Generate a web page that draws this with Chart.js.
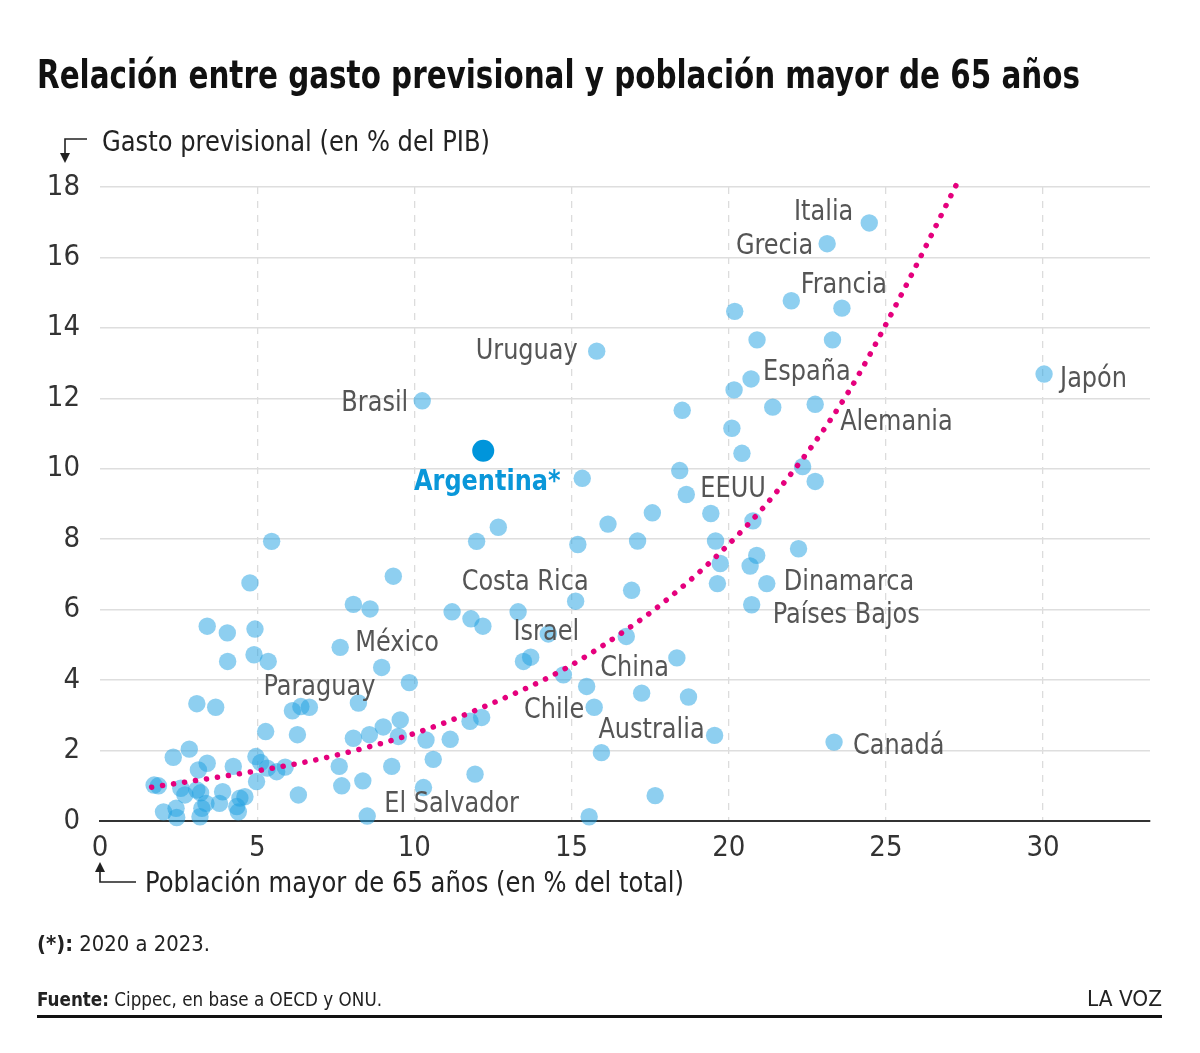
<!DOCTYPE html>
<html lang="es">
<head>
<meta charset="utf-8">
<script src="https://cdn.jsdelivr.net/npm/chart.js@4.4.1/dist/chart.umd.min.js"></script>
<style>
  html, body { margin: 0; padding: 0; background: #fff; }
  body { width: 1200px; height: 1053px; position: relative; overflow: hidden;
         font-family: "Liberation Sans Narrow", "DejaVu Sans Condensed", "Roboto", sans-serif; color: #222; }
  #c { position: absolute; left: 0; top: 0; }
  .t { position: absolute; white-space: nowrap; transform-origin: 0 0; }
  #title { left: 37px; top: 52px; font-size: 39px; font-weight: bold; color: #111; }
  #ytitle { left: 102px; top: 124px; font-size: 29px; color: #222; }
  #xtitle { left: 145px; top: 865px; font-size: 29px; color: #222; }
  #note { left: 37px; top: 931px; font-size: 22px; color: #222; }
  #src { left: 37px; top: 987px; font-size: 20px; color: #222; }
  #brand { left: 1087px; top: 986px; font-size: 22px; color: #222; }
  #rule { position: absolute; left: 37px; top: 1015px; width: 1125px; height: 3px; background: #111; }
  svg.arrow { position: absolute; overflow: visible; }
</style>
</head>
<body>
<canvas id="c" width="1200" height="1053"></canvas>
<div class="t" id="title" data-w="1043">Relación entre gasto previsional y población mayor de 65 años</div>
<div class="t" id="ytitle" data-w="388">Gasto previsional (en % del PIB)</div>
<div class="t" id="xtitle" data-w="539">Población mayor de 65 años (en % del total)</div>
<div class="t" id="note" data-w="173"><b>(*):</b> 2020 a 2023.</div>
<div class="t" id="src" data-w="345"><b>Fuente:</b> Cippec, en base a OECD y ONU.</div>
<div class="t" id="brand" data-w="75">LA VOZ</div>
<div id="rule"></div>
<svg class="arrow" style="left:0;top:0" width="1200" height="1053">
  <polyline points="87,139 65,139 65,155" fill="none" stroke="#222" stroke-width="1.6"/>
  <polygon points="60,153 70,153 65,163" fill="#222"/>
  <polyline points="136,882 100,882 100,870" fill="none" stroke="#222" stroke-width="1.6"/>
  <polygon points="95,872 105,872 100,862" fill="#222"/>
</svg>
<script>
// ---- Data ----
const popX = [24.47,23.13,23.6,21.99,20.19,20.9,23.3,15.8,20.71,20.17,21.4,22.75,18.52,20.1,20.42,22.35,22.75,18.44,18.65,15.34,30.03,10.25,
  19.43,17.57,16.16,15.2,17.1,19.58,20.77,22.22,20.89,19.73,20.68,21.21,19.64,16.91,20.73,15.13,16.74,18.35,15.48,17.23,18.72,15.72,19.55,23.35,15.95,17.66,15.56,
  12.67,11.98,9.33,8.06,8.59,11.2,13.3,11.8,12.18,14.26,7.64,13.47,13.7,8.96,14.74,9.84,8.22,9.55,9.01,11.77,12.14,8.06,8.57,9.49,10.37,11.14,7.61,9.28,10.6,11.93,7.69,8.36,10.29,8.5,
  5.46,4.77,3.41,4.05,4.93,4.06,4.9,5.35,3.08,3.68,6.12,6.39,6.66,5.27,6.28,2.33,2.84,3.41,3.13,4.24,4.96,5.11,5.32,5.62,5.89,4.98,1.72,1.86,2.57,2.7,3.08,3.2,3.9,4.45,4.61,6.31,3.37,3.24,3.8,4.35,2.02,2.42,2.44,3.18,4.4];
const gastoY = [16.98,16.39,14.56,14.77,14.47,13.66,13.66,13.34,12.55,12.24,11.75,11.83,11.66,11.15,10.44,10.06,9.64,9.95,9.27,9.73,12.69,11.93,
  8.73,8.75,8.43,7.85,7.95,7.95,8.52,7.73,7.54,7.31,7.24,6.74,6.74,6.55,6.14,6.24,5.24,4.63,3.82,3.63,3.52,3.23,2.43,2.24,1.94,0.72,0.12,
  8.34,7.94,6.95,6.15,6.02,5.94,5.94,5.74,5.53,5.31,4.93,4.53,4.65,4.36,4.15,3.93,3.35,2.87,2.67,2.83,2.94,2.35,2.45,2.4,2.3,2.32,1.55,1.55,1.75,1.33,1.0,1.14,0.95,0.14,
  7.94,6.76,5.53,5.34,5.45,4.53,4.72,4.53,3.33,3.23,3.13,3.25,3.23,2.54,2.45,1.81,2.04,1.64,1.45,1.55,1.83,1.66,1.5,1.4,1.53,1.12,1.02,1.0,0.93,0.74,0.88,0.8,0.83,0.65,0.69,0.74,0.5,0.36,0.5,0.41,0.26,0.36,0.1,0.12,0.26];
const countryNames = ["Italia","Grecia","Francia","","","","","Uruguay","España","","","Alemania","","","","","","","EEUU","","Japón","Brasil",
  "","","","","","","","","","","","Dinamarca","","","Países Bajos","","","China","","","","Chile","Australia","Canadá","","","",
  "","","","","","","Costa Rica","","","Israel","México","","","","","","","","","","","","","","","","","","","","","","","El Salvador",
  "","","","","","","","","","","","","Paraguay"];
const argentinaX = [12.19];
const argentinaY = [10.51];
const argentinaName = ["Argentina*"];
// dotted curve
const trendX = [1.64,5.04,7.24,10.18,11.94,14.74,17.02,17.93,19.67,21.52,23.78,25.43,27.36];
const trendY = [0.96,1.43,1.81,2.54,3.14,4.30,5.60,6.21,7.57,9.34,12.14,14.84,18.28];
const yTicks = [0,2,4,6,8,10,12,14,16,18];
const xTicks = [0,5,10,15,20,25,30];

// ---- label placement (style, kept apart from data) ----
const place = {
  "Italia":["left",-16,-13], "Grecia":["left",-14,0], "Francia":["above",2,-26],
  "Uruguay":["left",-19,-3], "España":["right",12,-9], "Alemania":["right",25,15],
  "EEUU":["right",14,-8], "Japón":["right",16,2], "Brasil":["left",-14,0],
  "Dinamarca":["right",17,-4], "Países Bajos":["right",21,8], "China":["left",-8,8],
  "Chile":["left",-10,0], "Australia":["left",-10,-8], "Canadá":["right",19,1],
  "Costa Rica":["above",7,-32], "Israel":["center",-2,-5], "México":["right",15,-7],
  "Paraguay":["above",10,-23], "El Salvador":["right",17,-15], "Argentina*":["below",4,29]
};

const FONT = '"Liberation Sans Narrow", "DejaVu Sans Condensed", "Roboto", sans-serif';
const SQUEEZE = 0.92;
const LABEL_DY = 3;

const pts = popX.map((x,i)=>({x, y: gastoY[i]}));
const argPts = argentinaX.map((x,i)=>({x, y: argentinaY[i]}));
const trendPts = trendX.map((x,i)=>({x, y: trendY[i]}));

const labelPlugin = {
  id: 'labels',
  afterDatasetsDraw(chart) {
    const ctx = chart.ctx;
    const drawSet = (dsIndex, names, bold, color) => {
      const meta = chart.getDatasetMeta(dsIndex);
      names.forEach((n, i) => {
        if (!n) return;
        const el = meta.data[i];
        const p = place[n] || ["right", 12, 0];
        ctx.save();
        ctx.textBaseline = 'middle';
        ctx.font = (bold ? 'bold ' : '') + '29px ' + FONT;
        ctx.fillStyle = color;
        let align = 'center';
        if (p[0] === 'left') align = 'right';
        else if (p[0] === 'right') align = 'left';
        ctx.textAlign = align;
        ctx.translate(el.x + p[1], el.y + p[2] + LABEL_DY);
        ctx.scale(SQUEEZE, 1);
        ctx.fillText(n, 0, 0);
        ctx.restore();
      });
    };
    drawSet(1, countryNames, false, '#555');
    drawSet(2, argentinaName, true, '#0a97d9');
  }
};

new Chart(document.getElementById('c'), {
  type: 'scatter',
  data: {
    datasets: [
      { data: trendPts, showLine: true, pointRadius: 0, borderColor: '#e5007d', borderWidth: 5.5,
        borderDash: [0.1, 11], borderCapStyle: 'round', cubicInterpolationMode: 'monotone', clip: false, order: 0 },
      { data: pts, pointRadius: 8.7, pointHoverRadius: 8.7, backgroundColor: 'rgba(30,160,225,0.5)', borderWidth: 0, order: 2, clip: false },
      { data: argPts, pointRadius: 11, pointHoverRadius: 11, backgroundColor: '#0095db', borderWidth: 0, order: 1 }
    ]
  },
  options: {
    responsive: false,
    animation: false,
    events: [],
    layout: { padding: { top: 187, right: 50, bottom: 0, left: 0 } },
    plugins: { legend: { display: false }, tooltip: { enabled: false } },
    scales: {
      x: {
        type: 'linear', min: 0, max: 33.4,
        afterFit(s) { s.height = 232; },
        afterBuildTicks(s) { s.ticks = xTicks.map(v => ({ value: v })); },
        ticks: { font: { family: FONT, size: 29 }, color: '#333', padding: 10, maxRotation: 0 },
        grid: { drawTicks: false, color: c => c.tick && c.tick.value === 0 ? 'rgba(0,0,0,0)' : '#dcdcdc', lineWidth: 1.3 },
        border: { display: true, color: '#333', width: 2, dash: [7, 7] }
      },
      y: {
        type: 'linear', min: 0, max: 18,
        afterFit(s) { s.width = 100; },
        afterBuildTicks(s) { s.ticks = yTicks.map(v => ({ value: v })); },
        ticks: { font: { family: FONT, size: 29 }, color: '#333', padding: 20 },
        grid: { drawTicks: false, color: c => c.tick && c.tick.value === 0 ? 'rgba(0,0,0,0)' : '#dedede', lineWidth: 1.5 },
        border: { display: false }
      }
    }
  },
  plugins: [labelPlugin]
});

// condense HTML texts horizontally to the reference widths
document.querySelectorAll('.t[data-w]').forEach(el => {
  const w = el.getBoundingClientRect().width;
  const target = parseFloat(el.dataset.w);
  if (w > 0) el.style.transform = 'scaleX(' + (target / w).toFixed(4) + ')';
});
</script>
</body>
</html>
